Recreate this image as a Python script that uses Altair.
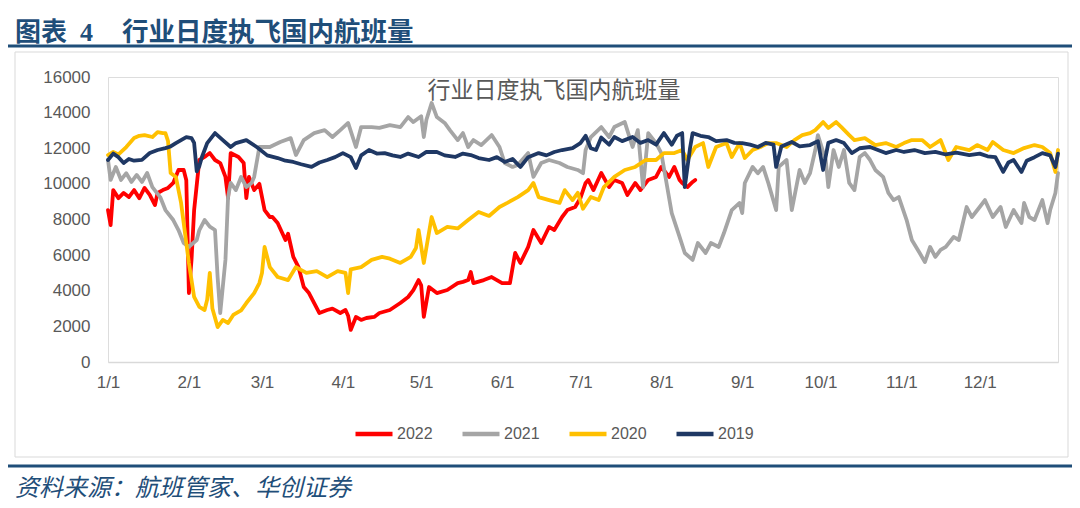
import altair as alt
import pandas as pd

# ---------------- data (day of year offset, value) ----------------
series_names = ["2022", "2021", "2020", "2019"]
series_colors = ["#FF0000", "#A5A5A5", "#FFC000", "#1F3864"]

days_2022 = [0, 1, 2, 4, 6, 8, 10, 12, 14, 16, 18, 19, 21, 23, 25, 27, 29, 30, 31, 32, 33, 35, 37, 39, 41, 43,
             45, 46, 47, 50, 52, 53, 54, 56, 58, 60, 62, 63, 65, 68, 69, 71, 73, 75, 77, 79, 81, 84, 86, 89, 91,
             92, 93, 95, 97, 99, 102, 104, 108, 112, 115, 117, 119, 120, 121, 123, 126, 130, 134, 136, 138, 139,
             140, 144, 147, 151, 154, 156, 158, 161, 163, 166, 169, 171, 174, 176, 179, 181, 183, 184, 186, 189,
             192, 194, 197, 199, 202, 204, 207, 210, 212, 215, 217, 219, 220, 222, 224, 225]
vals_2022 = [8530, 7690, 9650, 9200, 9490, 9260, 9650, 9200, 9770, 9380, 8810, 9490, 9650, 9770, 10050, 10780,
             10780, 10200, 3870, 5730, 8530, 11340, 11510, 11730, 11340, 11170, 10390, 9200, 11730, 11510, 11170,
             9200, 10390, 9650, 10000, 8530, 8140, 8140, 7800, 6850, 7200, 5900, 5330, 4210, 3870, 3310, 2750,
             2920, 3000, 2750, 2920, 2600, 1800, 2530, 2360, 2470, 2530, 2750, 2920, 3310, 3650, 4040, 4600, 4300,
             2530, 4210, 3870, 4040, 4430, 4500, 4600, 5050, 4430, 4600, 4770, 4430, 4430, 6120, 5560, 6460, 7410,
             6680, 7580, 7410, 8140, 8530, 8700, 9200, 10050, 10220, 9650, 10610, 9820, 10220, 10050, 9380, 10050,
             9650, 10220, 10390, 10950, 10390, 10950, 10220, 10050, 9820, 10110, 10220]

days_2021 = [0, 1, 3, 5, 7, 9, 11, 13, 15, 17, 20, 22, 25, 27, 29, 31, 34, 35, 37, 39, 41, 42, 43, 45, 46, 47,
             49, 51, 53, 55, 56, 58, 60, 62, 66, 70, 72, 75, 79, 83, 86, 89, 92, 95, 97, 101, 104, 108, 112, 115,
             117, 120, 121, 122, 124, 126, 129, 131, 134, 136, 138, 140, 143, 147, 150, 152, 155, 157, 161, 163,
             166, 169, 173, 176, 180, 182, 183, 185, 189, 192, 194, 198, 201, 203, 205, 207, 210, 212, 214, 216,
             219, 221, 224, 226, 229, 231, 234, 236, 239, 242, 243, 244, 247, 249, 251, 253, 256, 257, 260, 262,
             265, 267, 269, 271, 272, 275, 276, 278, 280, 282, 284, 286, 288, 290, 292, 294, 297, 299, 301, 303,
             306, 308, 311, 313, 315, 317, 319, 321, 324, 326, 329, 331, 334, 336, 339, 342, 344, 347, 350, 351,
             353, 355, 358, 360, 361, 363, 364]
vals_2021 = [11340, 10220, 10950, 10220, 10600, 10110, 10500, 10110, 10610, 9820, 9260, 8530, 7970, 7410, 6680,
             6460, 6850, 7410, 7970, 7600, 7410, 4770, 2750, 5730, 9260, 10050, 9650, 10390, 9820, 10050, 10390,
             12070, 12070, 12070, 12350, 12570, 11620, 12460, 12850, 13020, 12630, 13020, 13420, 12070, 13190,
             13190, 13140, 13300, 13190, 13750, 13470, 13800, 12630, 13600, 14540, 13750, 13420, 13020, 12460,
             12850, 12070, 12460, 12180, 12740, 12070, 11170, 10950, 11060, 11730, 10390, 11170, 11340, 11170,
             10950, 10780, 10600, 11900, 12630, 13190, 12630, 13190, 13470, 12070, 13020, 9820, 12850, 12290,
             11730, 10050, 8360, 7020, 6120, 5730, 6680, 6120, 6680, 6460, 7240, 8530, 8930, 8360, 10050, 10950,
             10600, 10950, 10050, 8530, 10950, 11340, 8530, 10780, 10050, 10610, 11900, 12740, 11340, 9820, 11900,
             10950, 11900, 10050, 9650, 11510, 11730, 11340, 10780, 10390, 9490, 9090, 9260, 7970, 6850, 6120,
             5610, 6460, 5900, 6290, 6460, 7020, 6850, 8700, 8140, 8700, 9090, 8140, 8700, 7580, 8530, 7800, 8930,
             8140, 7970, 9090, 7800, 8530, 9490, 10610]

days_2020 = [0, 2, 4, 7, 10, 12, 14, 17, 19, 21, 22, 23, 24, 26, 28, 30, 31, 33, 35, 37, 38, 39, 40, 42, 44, 46,
             48, 51, 53, 56, 58, 59, 60, 62, 65, 69, 72, 76, 80, 84, 88, 91, 92, 93, 97, 101, 105, 108, 112, 116,
             118, 119, 121, 124, 126, 130, 134, 138, 142, 146, 150, 153, 157, 161, 163, 165, 169, 173, 175, 178,
             180, 182, 185, 188, 190, 194, 198, 202, 206, 210, 213, 217, 220, 222, 225, 228, 230, 233, 237, 239,
             242, 244, 247, 250, 253, 256, 260, 263, 266, 269, 271, 274, 276, 279, 281, 284, 286, 290, 294, 298,
             302, 305, 308, 312, 315, 319, 322, 325, 330, 333, 337, 339, 343, 347, 351, 355, 358, 361, 363, 364]
vals_2020 = [11620, 11790, 11650, 12070, 12570, 12700, 12740, 12630, 12910, 12850, 12850, 12400, 10610, 10390,
             8930, 6680, 5560, 3650, 3090, 2920, 3500, 5000, 3000, 1960, 2360, 2190, 2640, 2900, 3310, 3870, 4430,
             5000, 6460, 5330, 4770, 4600, 5330, 5000, 5100, 4770, 5100, 5000, 3870, 5200, 5330, 5730, 5900, 5800,
             5560, 5900, 6400, 7410, 5560, 8140, 7240, 7580, 7500, 7970, 8420, 8200, 8700, 8930, 9260, 9650, 10050,
             9260, 9090, 8930, 9650, 9090, 9500, 8600, 9260, 9090, 9820, 10390, 10780, 10950, 11340, 11340, 11730,
             11730, 11900, 11340, 12070, 12290, 10950, 12070, 12290, 11510, 12290, 11450, 11900, 12070, 12290,
             12290, 12070, 12460, 12740, 12850, 13020, 13470, 13140, 13470, 13190, 12740, 12460, 12570, 12180,
             12290, 12070, 12290, 12460, 12460, 12070, 12460, 11340, 12070, 11900, 12180, 11900, 12350, 11900,
             11730, 12010, 12180, 12070, 11730, 10670, 11900]

days_2019 = [0, 2, 4, 6, 8, 10, 13, 16, 19, 22, 24, 26, 28, 30, 32, 33, 34, 35, 36, 38, 41, 44, 47, 49, 53, 57,
             61, 65, 68, 71, 74, 78, 81, 84, 87, 90, 93, 95, 97, 100, 103, 106, 109, 112, 115, 119, 122, 126, 129,
             133, 136, 139, 142, 146, 149, 152, 155, 158, 161, 165, 168, 171, 174, 178, 181, 183, 185, 187, 189,
             192, 194, 197, 201, 204, 207, 210, 213, 216, 218, 220, 221, 223, 224, 227, 230, 233, 237, 240, 243,
             246, 249, 252, 255, 256, 258, 262, 265, 269, 272, 274, 276, 279, 282, 285, 288, 292, 295, 298, 302,
             305, 309, 313, 317, 321, 325, 330, 334, 337, 340, 343, 345, 347, 350, 352, 355, 358, 361, 363, 364]
vals_2019 = [11340, 11700, 11500, 11170, 11400, 11300, 11350, 11730, 11900, 12010, 12100, 12290, 12460, 12630,
             12570, 12300, 10700, 11000, 11510, 12290, 12850, 12460, 12070, 12290, 12460, 12070, 11600, 11450,
             11300, 11230, 11100, 10950, 11200, 11340, 11500, 11730, 11500, 10890, 11600, 11900, 11700, 11730,
             11600, 11510, 11700, 11510, 11800, 11790, 11600, 11510, 11700, 11620, 11450, 11340, 11500, 11230,
             11400, 10950, 11500, 11730, 11600, 11790, 11900, 12010, 12290, 12700, 12000, 11900, 12600, 12200,
             12630, 12400, 12630, 12300, 12460, 12200, 12850, 12200, 12700, 12850, 9820, 12000, 12850, 12700,
             12630, 12400, 12460, 12300, 12290, 12200, 12070, 12300, 12200, 10950, 12100, 12350, 12100, 12180,
             12400, 10780, 12300, 12460, 12290, 11730, 12000, 12070, 11900, 11730, 11900, 11790, 11900, 11730,
             11800, 11650, 11750, 11620, 11700, 11550, 11500, 10670, 11200, 11340, 10670, 11300, 11500, 11730,
             11600, 10950, 11700]

month_days = [0, 31, 59, 90, 120, 151, 181, 212, 243, 273, 304, 334]
month_labels = ["1/1", "2/1", "3/1", "4/1", "5/1", "6/1", "7/1", "8/1", "9/1", "10/1", "11/1", "12/1"]
y_ticks = [0, 2000, 4000, 6000, 8000, 10000, 12000, 14000, 16000]

fig_title_prefix = "图表"
fig_title_num = "4"
fig_title = "行业日度执飞国内航班量"
inner_title = "行业日度执飞国内航班量"
source_text = "资料来源：航班管家、华创证券"

# ---------------- build table ----------------
rows = []
for name, ds, vs in [("2022", days_2022, vals_2022), ("2021", days_2021, vals_2021),
                     ("2020", days_2020, vals_2020), ("2019", days_2019, vals_2019)]:
    for d, v in zip(ds, vs):
        rows.append({"day": d, "value": v, "year": name})
df = pd.DataFrame(rows)

LABEL_FONT = "Liberation Sans Narrow, Liberation Sans, Arial"
GRAY = "#595959"
NAVY_TITLE = "#1F4E79"

label_expr = "[" + ",".join("'%s'" % s for s in month_labels) + "][indexof([" + \
    ",".join(str(d) for d in month_days) + "], datum.value)]"

x_enc = alt.X("day:Q", title=None,
              scale=alt.Scale(domain=[0, 364], nice=False, zero=False),
              axis=alt.Axis(values=month_days, labelExpr=label_expr, ticks=False, grid=False,
                            domain=True, domainColor="#D9D9D9", domainWidth=1.5, labelFlush=False,
                            labelPadding=12, labelFontSize=17, labelColor=GRAY, labelFont=LABEL_FONT))
y_enc = alt.Y("value:Q", title=None,
              scale=alt.Scale(domain=[0, 16000], nice=False),
              axis=alt.Axis(values=y_ticks, format="d", ticks=False, grid=False, domain=False,
                            labelPadding=18, labelFontSize=17, labelColor=GRAY, labelFont=LABEL_FONT))
color_enc = alt.Color("year:N", title=None,
                      scale=alt.Scale(domain=series_names, range=series_colors),
                      legend=alt.Legend(orient="none", legendX=245, legendY=336, direction="horizontal",
                                        symbolType="stroke", symbolSize=1369, symbolStrokeWidth=4.5,
                                        labelFontSize=16, labelColor=GRAY, labelFont=LABEL_FONT,
                                        labelOffset=2, columnPadding=20, values=series_names))

base = alt.Chart(df)
lines = [base.transform_filter(alt.datum.year == name)
         .mark_line(strokeWidth=3.8, strokeJoin="round", strokeCap="round")
         .encode(x=x_enc, y=y_enc, color=color_enc)
         for name in series_names]

one = alt.Data(values=[{"k": 1}])


def txt(text, x, y, size, color, weight="normal", style="normal", align="left", baseline="alphabetic",
        font="Noto Sans CJK SC"):
    return alt.Chart(one).mark_text(text=text, fontSize=size, color=color, fontWeight=weight,
                                    fontStyle=style, align=align, baseline=baseline, font=font).encode(
        x=alt.value(x), y=alt.value(y))


def rule(x1, x2, y, color, w):
    return alt.Chart(one).mark_rule(color=color, strokeWidth=w).encode(
        x=alt.value(x1), x2=alt.value(x2), y=alt.value(y))


frame = alt.Chart(one).mark_rect(fill="transparent", stroke="#D9D9D9", strokeWidth=1).encode(
    x=alt.value(-93), x2=alt.value(960), y=alt.value(-25), y2=alt.value(380))

decor = [
    frame,
    txt(fig_title_prefix, -93, -36, 26, NAVY_TITLE, weight="bold"),
    txt(fig_title_num, -28, -36, 26, NAVY_TITLE, weight="bold", font="Liberation Serif"),
    txt(fig_title, 14, -36, 26.5, NAVY_TITLE, weight="bold"),
    rule(-100, 964, -31, NAVY_TITLE, 3),
    txt(inner_title, 446, 14, 23, GRAY, align="center", baseline="middle"),
    rule(-100, 964, 389, NAVY_TITLE, 3),
    txt(source_text, -93, 419, 24, NAVY_TITLE, style="italic"),
]

chart = alt.layer(*lines, *decor).properties(
    width=950, height=285,
    autosize=alt.AutoSizeParams(type="none"),
    padding={"left": 100, "top": 69, "right": 14, "bottom": 144},
).configure_view(stroke="transparent", strokeWidth=0).configure(background="white")

chart.save("out.html", embed_options={"renderer": "svg", "actions": False})
